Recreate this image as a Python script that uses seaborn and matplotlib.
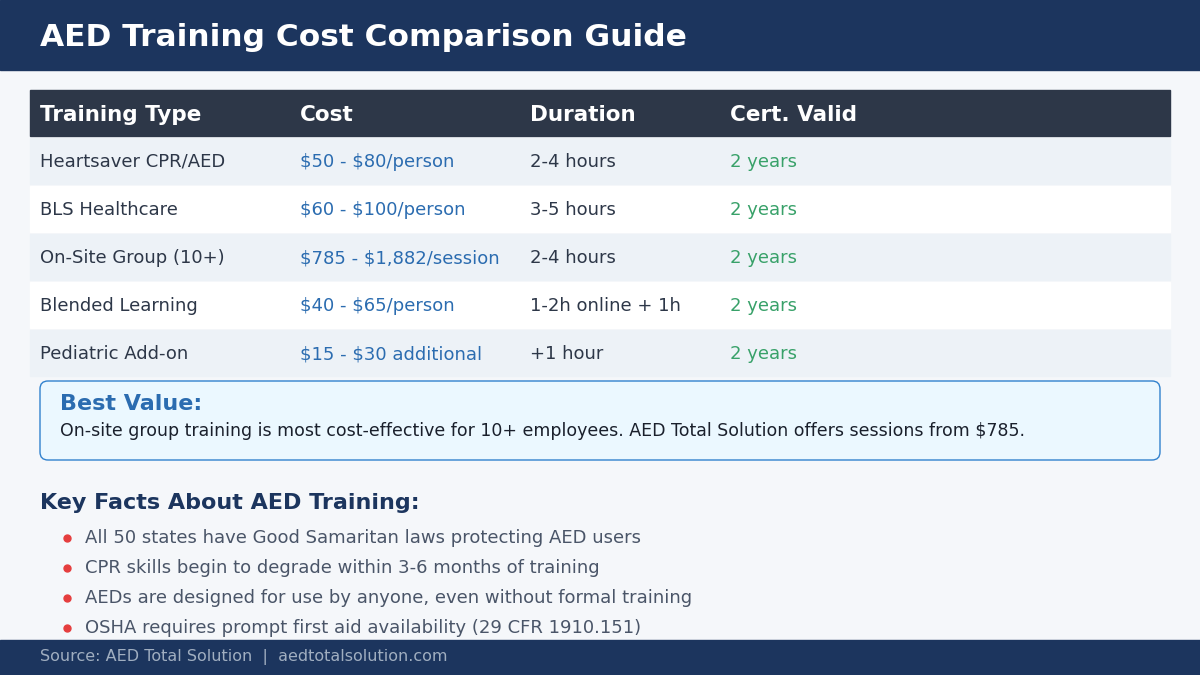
import matplotlib.pyplot as plt
import seaborn as sns
from matplotlib.patches import Rectangle, FancyBboxPatch

sns.set_theme(style="white")
plt.rcParams['font.family'] = ['DejaVu Sans']

title = "AED Training Cost Comparison Guide"
columns = ["Training Type", "Cost", "Duration", "Cert. Valid"]
training_types = ["Heartsaver CPR/AED", "BLS Healthcare", "On-Site Group (10+)",
                  "Blended Learning", "Pediatric Add-on"]
costs = ["$50 - $80/person", "$60 - $100/person", "$785 - $1,882/session",
         "$40 - $65/person", "$15 - $30 additional"]
durations = ["2-4 hours", "3-5 hours", "2-4 hours", "1-2h online + 1h", "+1 hour"]
validity = ["2 years"] * 5
best_title = "Best Value:"
best_text = ("On-site group training is most cost-effective for 10+ employees. "
             "AED Total Solution offers sessions from $785.")
facts_title = "Key Facts About AED Training:"
facts = ["All 50 states have Good Samaritan laws protecting AED users",
         "CPR skills begin to degrade within 3-6 months of training",
         "AEDs are designed for use by anyone, even without formal training",
         "OSHA requires prompt first aid availability (29 CFR 1910.151)"]
source = "Source: AED Total Solution  |  aedtotalsolution.com"

navy = "#1c355e"
fig = plt.figure(figsize=(12, 6.75), dpi=100)
fig.patch.set_facecolor("#f5f7fa")
ax = fig.add_axes([0, 0, 1, 1])
ax.set_xlim(0, 1200)
ax.set_ylim(675, 0)
ax.axis("off")


def txt(x, y, s, **kw):
    ax.text(x, y, s, va="center", parse_math=False, **kw)


# header
ax.add_patch(Rectangle((0, 0), 1200, 70, color=navy))
txt(40, 37, title, color="white", fontsize=22.5, fontweight="bold")

# table
col_x = [40, 300, 530, 730]
ax.add_patch(Rectangle((30, 90), 1140, 46, color="#2d3748"))
for x, c in zip(col_x, columns):
    txt(x, 115, c, color="white", fontsize=15.5, fontweight="bold")
row_h = 48
for i in range(len(training_types)):
    top = 138 + i * row_h
    ax.add_patch(Rectangle((30, top), 1140, row_h - 2,
                           color="#edf2f7" if i % 2 == 0 else "white"))
    yc = top + row_h / 2
    txt(col_x[0], yc, training_types[i], color="#2d3748", fontsize=13)
    txt(col_x[1], yc, costs[i], color="#2b6cb0", fontsize=13)
    txt(col_x[2], yc, durations[i], color="#2d3748", fontsize=13)
    txt(col_x[3], yc, validity[i], color="#38a169", fontsize=13)

# best value box
ax.add_patch(FancyBboxPatch((40, 381), 1120, 79, boxstyle="round,pad=0,rounding_size=8",
                            facecolor="#ebf8ff", edgecolor="#3182ce", linewidth=1))
txt(60, 404, best_title, color="#2b6cb0", fontsize=16, fontweight="bold")
txt(60, 431, best_text, color="#1a202c", fontsize=12.5)

# key facts
txt(40, 503, facts_title, color=navy, fontsize=16, fontweight="bold")
for i, f in enumerate(facts):
    y = 538 + i * 30
    ax.plot(67, y, "o", color="#e53e3e", markersize=5)
    txt(85, y, f, color="#4a5568", fontsize=13)

# footer
ax.add_patch(Rectangle((0, 640), 1200, 35, color=navy))
txt(40, 657, source, color="#a0aec0", fontsize=11.5)

fig.savefig("out.png", dpi=100)
